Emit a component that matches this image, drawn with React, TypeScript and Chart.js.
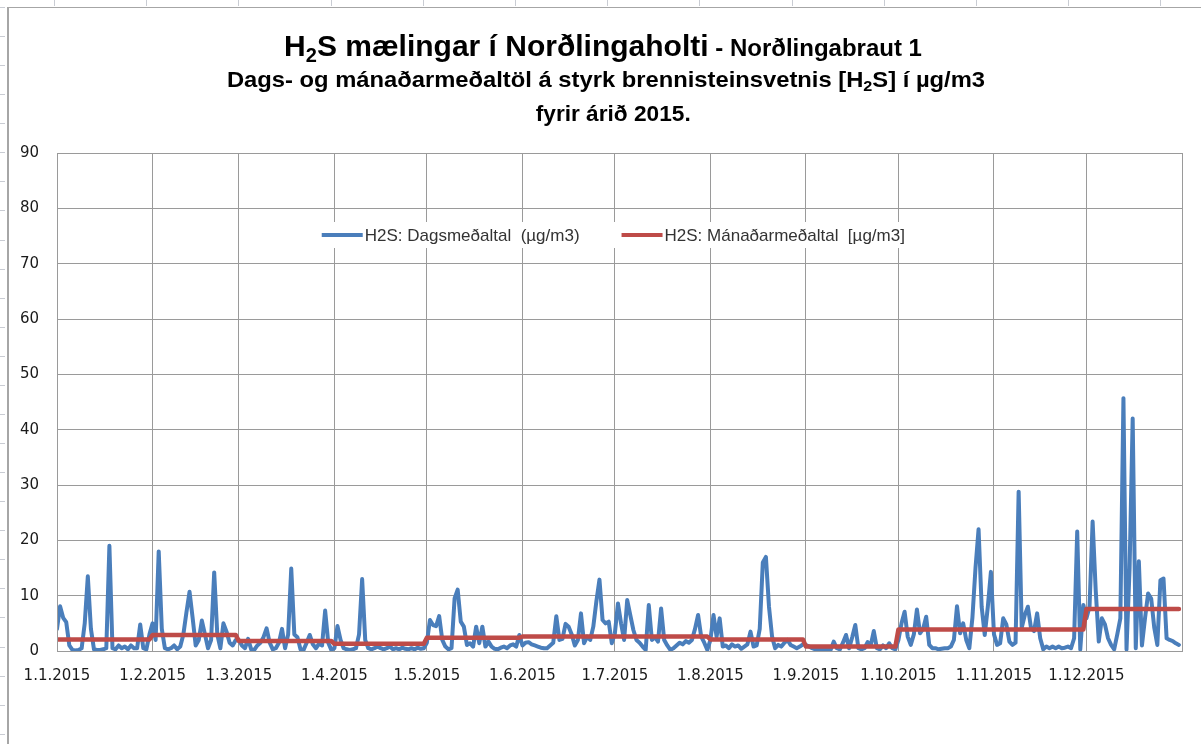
import React, { useEffect, useRef } from "react";
import { Chart, registerables } from "chart.js";

Chart.register(...registerables);

// ---- data ----
const monthLabels = [
  "1.1.2015", "1.2.2015", "1.3.2015", "1.4.2015", "1.5.2015", "1.6.2015",
  "1.7.2015", "1.8.2015", "1.9.2015", "1.10.2015", "1.11.2015", "1.12.2015",
];
const monthStartDays = [0, 31, 59, 90, 120, 151, 181, 212, 243, 273, 304, 334];
const yearDays = 365;
const yTickValues = [0, 10, 20, 30, 40, 50, 60, 70, 80, 90];

// daily means (µg/m3)
const jan = [4, 8.1, 6, 5.2, 1, 0.2, 0.1, 0.2, 0.5, 5, 13.5, 4, 0.3, 0.2, 0.2, 0.3, 0.5, 19, 0.5, 0.3, 1, 0.5, 0.8, 0.3, 1, 0.5, 0.5, 4.8, 0.5, 0.3, 3];
const feb = [5, 2, 18, 4, 0.5, 0.3, 0.5, 1, 0.3, 0.8, 3, 7, 10.7, 6, 1, 2, 5.5, 3, 0.5, 2, 14.2, 3, 0.5, 5, 3.5, 1.5, 1, 2];
const mar = [2, 1, 0.5, 2.2, 0.3, 0.2, 1, 1.5, 2.5, 4.1, 1.5, 0.3, 0.5, 1.5, 4, 0.5, 3, 14.9, 3, 2.5, 0.3, 0.2, 1.5, 2.9, 1.2, 0.5, 1.3, 1, 7.3, 1.5, 0.2];
const apr = [0.5, 4.5, 2, 0.5, 0.3, 0.2, 0.3, 0.5, 3, 13, 2, 0.5, 0.3, 0.5, 0.8, 0.5, 0.3, 0.5, 0.8, 0.3, 0.5, 0.3, 0.6, 0.4, 0.3, 0.5, 0.3, 0.6, 0.4, 0.5];
const may = [1.5, 5.6, 4.7, 4.5, 6.3, 2, 0.8, 0.3, 0.5, 9.5, 11.1, 5.3, 4.4, 1.1, 1.4, 0.8, 4.4, 1.4, 4.4, 0.8, 1.7, 0.8, 0.4, 0.3, 0.6, 0.8, 0.5, 1, 1.2, 0.8, 2.9];
const jun = [1, 1.5, 1.6, 1.2, 1, 0.8, 0.6, 0.5, 0.5, 1, 1.5, 6.3, 2, 2.2, 4.9, 4.4, 3, 1, 2, 6.8, 1.4, 2.6, 2, 4.4, 9, 12.9, 5.6, 5, 5.3, 1.4];
const jul = [3.2, 8.6, 5, 2, 9.2, 6.5, 3.8, 2, 1.5, 0.8, 0.2, 8.3, 2, 2.5, 1.7, 7.7, 2, 1, 0.2, 0.5, 1, 1.5, 1.2, 1.8, 1.5, 2, 4, 6.5, 2.6, 1.5, 0.2];
const aug = [2, 6.5, 2.6, 5.9, 0.8, 1, 0.5, 1.2, 0.8, 1, 0.4, 0.8, 1.2, 3.5, 0.8, 1, 4, 16, 17, 8, 2.6, 0.5, 1.1, 0.8, 1.5, 2, 1.1, 0.8, 0.5, 0.8, 1.2];
const sep = [1.1, 0.8, 0.5, 0.3, 0.2, 0.2, 0.3, 0.2, 0.2, 1.7, 0.5, 0.3, 1.5, 2.9, 0.5, 2.5, 4.7, 0.5, 0.3, 0.5, 1.6, 1, 3.6, 0.5, 0.3, 1, 0.5, 1.4, 0.5, 0.3];
const oct = [2, 5, 7.1, 2.6, 1.1, 3, 7.5, 3.2, 4, 6.2, 1.1, 0.5, 0.5, 0.3, 0.4, 0.5, 0.5, 0.8, 2, 8.1, 3.2, 5, 2, 0.5, 6, 15, 22, 8, 2.9, 8, 14.3];
const nov = [3, 1.1, 1.4, 5.9, 4.8, 1.7, 1.1, 1.5, 28.8, 4.2, 6.5, 8, 4.2, 3.6, 6.8, 2.3, 0.3, 0.8, 0.5, 0.8, 0.5, 0.8, 0.5, 0.6, 0.8, 0.5, 2.3, 21.6, 0.3, 8.3];
const dec = [5.9, 8, 23.4, 11, 1.7, 5.9, 4.8, 2.3, 1.1, 0.3, 3, 5.9, 45.7, 0.3, 15, 42, 0.5, 16.2, 1, 5.9, 10.4, 9.5, 4.2, 1.1, 12.8, 13.1, 2.3, 2, 1.8, 1.4, 1.1];

// monthly means (µg/m3)
const monthlyMeans = [2.1, 2.9, 1.8, 1.3, 2.4, 2.6, 2.6, 2.1, 0.8, 3.9, 3.9, 7.6];

const dailyByMonth = [jan, feb, mar, apr, may, jun, jul, aug, sep, oct, nov, dec];

const dailyLabel = "H2S: Dagsmeðaltal  (µg/m3)";
const monthlyLabel = "H2S: Mánaðarmeðaltal  [µg/m3]";

const BLUE = "#4A7EBB";
const RED = "#BE4B48";
const GRID = "#9a9a9a";
const TICK_FONT = '"DejaVu Sans", Verdana, sans-serif';
const LEGEND_FONT = '"Liberation Sans", Arial, sans-serif';

function buildSeries() {
  const daily: { x: number; y: number }[] = [];
  const monthly: { x: number; y: number }[] = [];
  let day = 0;
  dailyByMonth.forEach((arr, m) => {
    arr.forEach((v) => {
      daily.push({ x: day, y: v });
      monthly.push({ x: day, y: monthlyMeans[m] });
      day++;
    });
  });
  return { daily, monthly };
}

const inAreaLegend = {
  id: "inAreaLegend",
  beforeDatasetsDraw(chart: any) {
    const { ctx, chartArea } = chart;
    const items = [
      { label: dailyLabel, color: BLUE },
      { label: monthlyLabel, color: RED },
    ];
    ctx.save();
    ctx.font = `17px ${LEGEND_FONT}`;
    const lineLen = 41;
    const gapLT = 2;
    const gapItems = 42;
    const widths = items.map((it) => ctx.measureText(it.label).width);
    const total = widths.reduce((a, w) => a + lineLen + gapLT + w, 0) + gapItems;
    const cx = chartArea.left + (chartArea.right - chartArea.left) * 0.4945;
    const cy = chartArea.top + 82;
    let x = cx - total / 2;
    ctx.fillStyle = "#ffffff";
    ctx.fillRect(x - 8, cy - 13, total + 16, 26);
    ctx.textBaseline = "middle";
    ctx.textAlign = "left";
    items.forEach((it, i) => {
      ctx.strokeStyle = it.color;
      ctx.lineWidth = 4;
      ctx.lineCap = "butt";
      ctx.beginPath();
      ctx.moveTo(x, cy);
      ctx.lineTo(x + lineLen, cy);
      ctx.stroke();
      x += lineLen + gapLT;
      ctx.fillStyle = "#333333";
      ctx.fillText(it.label, x, cy + 1);
      x += widths[i] + gapItems;
    });
    ctx.restore();
  },
};

const plotBorder = {
  id: "plotBorder",
  afterDatasetsDraw(chart: any) {
    const { ctx, chartArea } = chart;
    ctx.save();
    ctx.strokeStyle = GRID;
    ctx.lineWidth = 1;
    ctx.strokeRect(
      Math.round(chartArea.left) + 0.5,
      Math.round(chartArea.top) + 0.5,
      Math.round(chartArea.right - chartArea.left),
      Math.round(chartArea.bottom - chartArea.top)
    );
    ctx.restore();
  },
};

function ChartCanvas() {
  const ref = useRef<HTMLCanvasElement | null>(null);
  useEffect(() => {
    if (!ref.current) return;
    const { daily, monthly } = buildSeries();
    const chart = new Chart(ref.current, {
      type: "line",
      data: {
        datasets: [
          {
            label: dailyLabel,
            data: daily,
            borderColor: BLUE,
            backgroundColor: BLUE,
            borderWidth: 4,
            pointRadius: 0,
            tension: 0,
            borderJoinStyle: "round",
            borderCapStyle: "round",
            order: 2,
          },
          {
            label: monthlyLabel,
            data: monthly,
            borderColor: RED,
            backgroundColor: RED,
            borderWidth: 4.5,
            pointRadius: 0,
            tension: 0,
            borderJoinStyle: "round",
            borderCapStyle: "round",
            order: 1,
          },
        ],
      },
      options: {
        responsive: false,
        animation: false,
        devicePixelRatio: 1,
        layout: { padding: { left: 7, right: 19, top: 153, bottom: 53 } },
        plugins: {
          legend: { display: false },
          title: { display: false },
          tooltip: { enabled: false },
        },
        scales: {
          x: {
            type: "linear",
            min: 0,
            max: yearDays,
            afterBuildTicks: (scale: any) => {
              scale.ticks = [...monthStartDays, yearDays].map((v) => ({ value: v }));
            },
            afterFit: (scale: any) => {
              scale.height = 40;
            },
            ticks: {
              autoSkip: false,
              maxRotation: 0,
              minRotation: 0,
              padding: 16,
              color: "#1a1a1a",
              font: { family: TICK_FONT, size: 15 },
              callback: (value: any) => {
                const idx = monthStartDays.indexOf(Number(value));
                return idx >= 0 ? monthLabels[idx] : "";
              },
            },
            grid: { color: GRID, lineWidth: 1, drawTicks: false },
            border: { color: GRID, width: 1 },
          },
          y: {
            min: 0,
            max: 90,
            afterBuildTicks: (scale: any) => {
              scale.ticks = yTickValues.map((v) => ({ value: v }));
            },
            afterFit: (scale: any) => {
              scale.width = 50;
            },
            ticks: {
              padding: 18,
              color: "#1a1a1a",
              font: { family: TICK_FONT, size: 15 },
            },
            grid: { color: GRID, lineWidth: 1, drawTicks: false },
            border: { color: GRID, width: 1 },
          },
        },
      },
      plugins: [inAreaLegend, plotBorder],
    });
    return () => chart.destroy();
  }, []);
  return (
    <canvas
      ref={ref}
      width={1201}
      height={744}
      style={{ position: "absolute", left: 0, top: 0, width: 1201, height: 744 }}
    />
  );
}

const TITLE_FONT = '"Liberation Sans", Arial, sans-serif';

export default function App() {
  const rowTicks = Array.from({ length: 26 }, (_, i) => 7 + i * 29.07);
  const colTicks = Array.from({ length: 13 }, (_, i) => 54 + i * 92.2);
  const lineStyle: React.CSSProperties = {
    position: "absolute",
    width: 1214,
    textAlign: "center",
    whiteSpace: "nowrap",
    lineHeight: 1,
    fontFamily: TITLE_FONT,
    fontWeight: 700,
    color: "#000",
  };
  return (
    <div
      style={{
        position: "absolute",
        left: 0,
        top: 0,
        width: 1201,
        height: 744,
        background: "#fff",
        overflow: "hidden",
      }}
    >
      {rowTicks.map((y, i) => (
        <div key={"r" + i} style={{ position: "absolute", left: 0, top: Math.round(y), width: 5, height: 1, background: "#c9ccd3" }} />
      ))}
      {colTicks.map((x, i) => (
        <div key={"c" + i} style={{ position: "absolute", left: Math.round(x), top: 0, width: 1, height: 6, background: "#c9ccd3" }} />
      ))}
      <div style={{ position: "absolute", left: 7, top: 7, width: 1194, height: 737, borderLeft: "2px solid #a6a6a6", borderTop: "1px solid #a6a6a6", boxSizing: "border-box" }} />
      <ChartCanvas />
      <div style={{ ...lineStyle, left: -4, top: 31 }}>
        <span style={{ fontSize: 30 }}>
          H<span style={{ fontSize: 20, position: "relative", top: 6 }}>2</span>S mælingar í Norðlingaholti
        </span>
        <span style={{ fontSize: 24 }}> - Norðlingabraut 1</span>
      </div>
      <div style={{ ...lineStyle, left: -1, top: 69, fontSize: 22 }}>
        <span style={{ display: "inline-block", transform: "scaleX(1.08)" }}>
          Dags- og mánaðarmeðaltöl á styrk brennisteinsvetnis [H
          <span style={{ fontSize: 15, position: "relative", top: 4 }}>2</span>S] í µg/m3
        </span>
      </div>
      <div style={{ ...lineStyle, left: 6, top: 103, fontSize: 22 }}>
        <span style={{ display: "inline-block", transform: "scaleX(1.03)" }}>fyrir árið 2015.</span>
      </div>
    </div>
  );
}
